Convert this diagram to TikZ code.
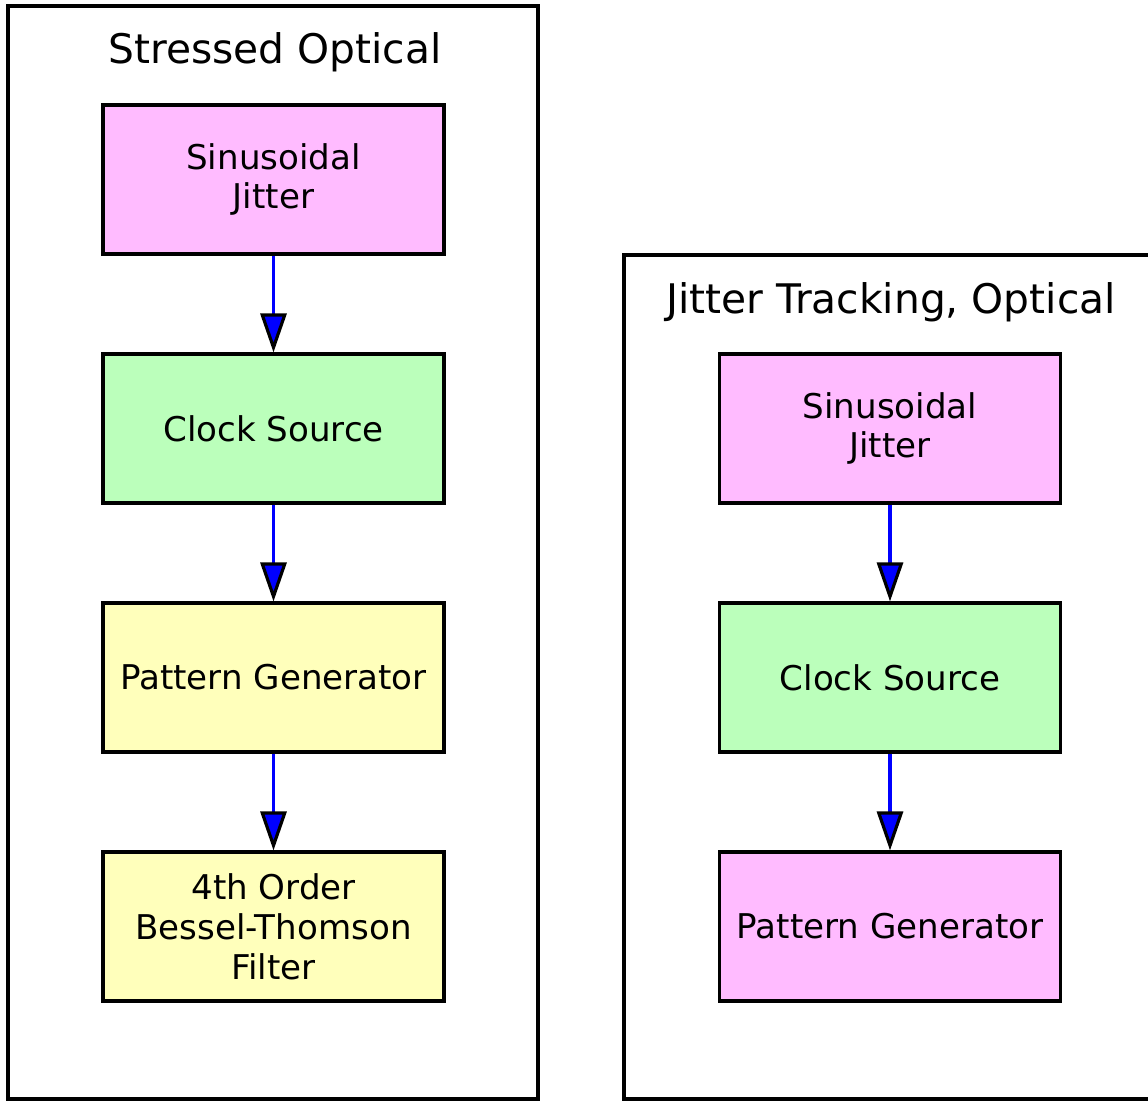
\documentclass[tikz,border=0pt]{standalone}
\usepackage{fontspec}
\setmainfont{DejaVu Sans}
\usepackage{xcolor}
\usetikzlibrary{arrows.meta,positioning}
\definecolor{jitterpink}{HTML}{FFBBFF}
\definecolor{clockgreen}{HTML}{BBFFBB}
\definecolor{patternyellow}{HTML}{FFFFBB}
\tikzstyle{block}=[draw=black, line width=1.8pt, minimum width=6.82cm, minimum height=2.98cm, align=center, inner sep=0pt, font=\fontsize{19.4}{22.7}\selectfont]
\tikzstyle{jitter}=[block, fill=jitterpink]
\tikzstyle{clock}=[block, fill=clockgreen]
\tikzstyle{pattern}=[block, fill=patternyellow]
\tikzstyle{title}=[inner sep=0pt, font=\fontsize{23.2}{27}\selectfont]
\tikzstyle{flow}=[-{Triangle[width=0.52cm, length=0.78cm, color=black, fill=blue]}, draw=blue, line width=1.8pt]
\tikzstyle{frame}=[-, draw=black, line width=1.8pt]
\tikzstyle{none}=[inner sep=0pt]

\begin{document}
\begin{tikzpicture}[x=0.02cm, y=-0.02cm]
	\useasboundingbox (0,0) rectangle (1148,1101);
	% stressed optical chain
	\node [style=title] (SOtitle) at (275,52) {Stressed Optical};
	\node [style=jitter] (sj1) at (273.5,179.5) {Sinusoidal\\Jitter};
	\node [style=clock] (cs1) at (273.5,428.5) {Clock Source};
	\node [style=pattern] (pg1) at (273.5,677.5) {Pattern Generator};
	\node [style=pattern] (bt1) at (273.5,926.5) {4th Order\\Bessel-Thomson\\Filter};

	\node [style=none] (ATL) at (8,6) {};
	\node [style=none] (ATR) at (538,6) {};
	\node [style=none] (ABR) at (538,1099) {};
	\node [style=none] (ABL) at (8,1099) {};

	% jitter tracking chain
	\node [style=title] (JTtitle) at (891,302) {Jitter Tracking, Optical};
	\node [style=jitter] (sj2) at (890,428.5) {Sinusoidal\\Jitter};
	\node [style=clock] (cs2) at (890,677.5) {Clock Source};
	\node [style=jitter] (pg2) at (890,926.5) {Pattern Generator};

	\node [style=none] (BTL) at (624,255) {};
	\node [style=none] (BTR) at (1152,255) {};
	\node [style=none] (BBR) at (1152,1099) {};
	\node [style=none] (BBL) at (624,1099) {};

	\draw [style=frame] (ATL.center) -- (ATR.center) -- (ABR.center) -- (ABL.center) -- cycle;
	\draw [style=frame] (BTL.center) -- (BTR.center) -- (BBR.center) -- (BBL.center) -- cycle;

	\draw [style=flow] (sj1) to (cs1);
	\draw [style=flow] (cs1) to (pg1);
	\draw [style=flow] (pg1) to (bt1);
	\draw [style=flow] (sj2) to (cs2);
	\draw [style=flow] (cs2) to (pg2);
\end{tikzpicture}
\end{document}
